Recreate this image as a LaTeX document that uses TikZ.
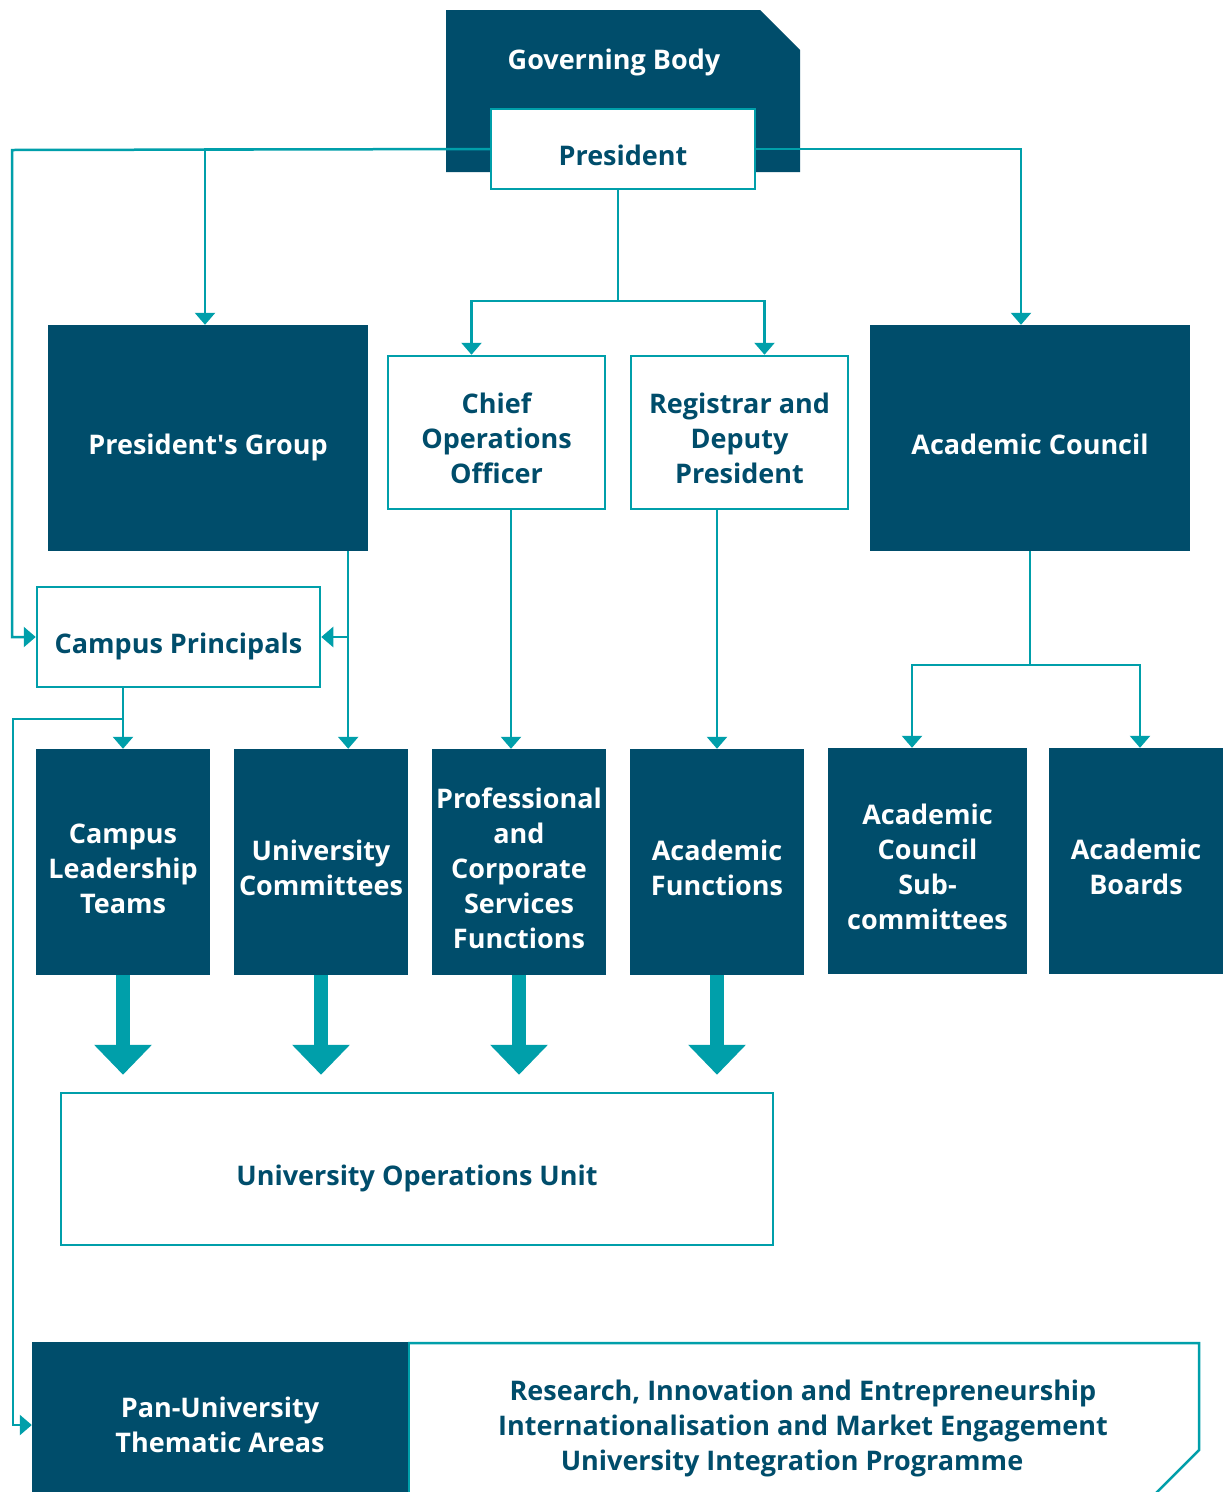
\documentclass[tikz,border=0pt]{standalone}
\usepackage{fontspec}
\setmainfont{Open Sans}
\usetikzlibrary{arrows.meta,calc}
\definecolor{navy}{HTML}{004D6B}
\definecolor{tealc}{HTML}{009FAA}
% centred, multi-line box text, lowered without changing its box
\newcommand\boxtext[2][9pt]{\raisebox{-#1}[\height][\depth]{\begin{tabular}{@{}c@{}}#2\end{tabular}}}
\begin{document}
\begin{tikzpicture}[x=1pt,y=-1pt,
  every node/.style={font=\fontsize{27}{35}\selectfont\bfseries, inner sep=0pt},
  dark/.style={fill=navy, text=white},
  light/.style={draw=tealc, line width=2.5pt, fill=white, text=navy},
  link/.style={draw=tealc, line width=2.5pt},
  conn/.style={link, -{Triangle[width=20pt,length=12pt]}},
  big/.style={draw=tealc, line width=14pt, -{Triangle[width=56pt,length=30pt]}, shorten >=17pt}]
\fill[white] (0,0) rectangle (1232,1492);
\useasboundingbox (0,0) rectangle (1232,1492);

% governing body with clipped corner
\fill[navy] (446,10) -- (760,10) -- (800,50) -- (800,172) -- (446,172) -- cycle;
\node[text=white] (gb) at (614,60) {\boxtext[2pt]{Governing Body}};

\coordinate (lbus) at (12,150);
\coordinate (lbus2) at (13,719);

\node[light, minimum width=264pt, minimum height=80pt] (pres) at (623,149) {\boxtext{President}};

\node[dark, minimum width=320pt, minimum height=226pt] (pg) at (208,438) {\boxtext{President\textquotesingle s Group}};
\node[light, minimum width=217pt, minimum height=153pt] (coo) at (496.5,432.5) {\boxtext{Chief\\Operations\\Officer}};
\node[light, minimum width=217pt, minimum height=153pt] (reg) at (739.5,432.5) {\boxtext{Registrar and\\Deputy\\President}};
\node[dark, minimum width=320pt, minimum height=226pt] (ac) at (1030,438) {\boxtext{Academic Council}};

\node[light, minimum width=283pt, minimum height=100pt] (cp) at (178.5,637) {\boxtext{Campus Principals}};

\node[dark, minimum width=174pt, minimum height=226pt] (clt) at (123,862) {\boxtext{Campus\\Leadership\\Teams}};
\node[dark, minimum width=174pt, minimum height=226pt] (uc) at (321,862) {\boxtext{University\\Committees}};
\node[dark, minimum width=174pt, minimum height=226pt] (pcs) at (519,862) {\boxtext{Professional\\and\\Corporate\\Services\\Functions}};
\node[dark, minimum width=174pt, minimum height=226pt] (af) at (717,862) {\boxtext{Academic\\Functions}};
\node[dark, minimum width=199pt, minimum height=226pt] (acs) at (927.5,861) {\boxtext{Academic\\Council\\Sub-\\committees}};
\node[dark, minimum width=174pt, minimum height=226pt] (ab) at (1136,861) {\boxtext{Academic\\Boards}};

\node[light, minimum width=712pt, minimum height=152pt] (uou) at (417,1169) {\boxtext{University Operations Unit}};

% thematic areas panel
\draw[link] (408,1343) -- (1199,1343) -- (1199,1450) -- (1148,1501);
\node[dark, minimum width=376pt, minimum height=166pt] (pan) at (220,1425) {\boxtext[3pt]{Pan-University\\Thematic Areas}};
\draw[link] (409,1343) -- (409,1500);
\node[text=navy] (themes) at (803,1426) {\boxtext[2pt]{Research, Innovation and Entrepreneurship\\Internationalisation and Market Engagement\\University Integration Programme\hspace*{22pt}}};

% president links
\draw[conn] (pres.west) -- (lbus) |- (cp.west);
\draw[conn] (pres.west) -| ($(pg.north)+(-3,0)$);
\draw[conn] (pres.east) -| ($(ac.north)+(-9,0)$);
\coordinate (pj) at ($(pres.south)+(-5,0)$);
\draw[link] (pj) -- (pj |- 0,301) coordinate (pjb);
\draw[conn] (pjb) -| ($(coo.north)+(-25,0)$);
\draw[conn] (pjb) -| ($(reg.north)+(25,0)$);

% president's group links
\coordinate (pgd) at ($(pg.south east)+(-20,0)$);
\draw[conn] (pgd) -- (pgd |- uc.north);
\draw[conn] (pgd |- cp.east) -- (cp.east);

% campus principals links
\draw[conn] (cp.south -| clt.north) -- (clt.north);
\draw[conn] (clt.north |- lbus2) -- (lbus2) |- (pan.west);

% officer links
\coordinate (cood) at ($(coo.south)+(14.5,0)$);
\draw[conn] (cood) -- (cood |- pcs.north);
\draw[conn] (reg.south -| af.north) -- (af.north);

% academic council links
\draw[link] (ac.south) -- (ac.south |- 0,665) coordinate (acj);
\draw[conn] (acj) -| ($(acs.north)+(-15.5,0)$);
\draw[conn] (acj) -| ($(ab.north)+(4,0)$);

% flows into the operations unit
\draw[big] (clt.south) -- (clt.south |- uou.north);
\draw[big] (uc.south) -- (uc.south |- uou.north);
\draw[big] (pcs.south) -- (pcs.south |- uou.north);
\draw[big] (af.south) -- (af.south |- uou.north);
\end{tikzpicture}
\end{document}
